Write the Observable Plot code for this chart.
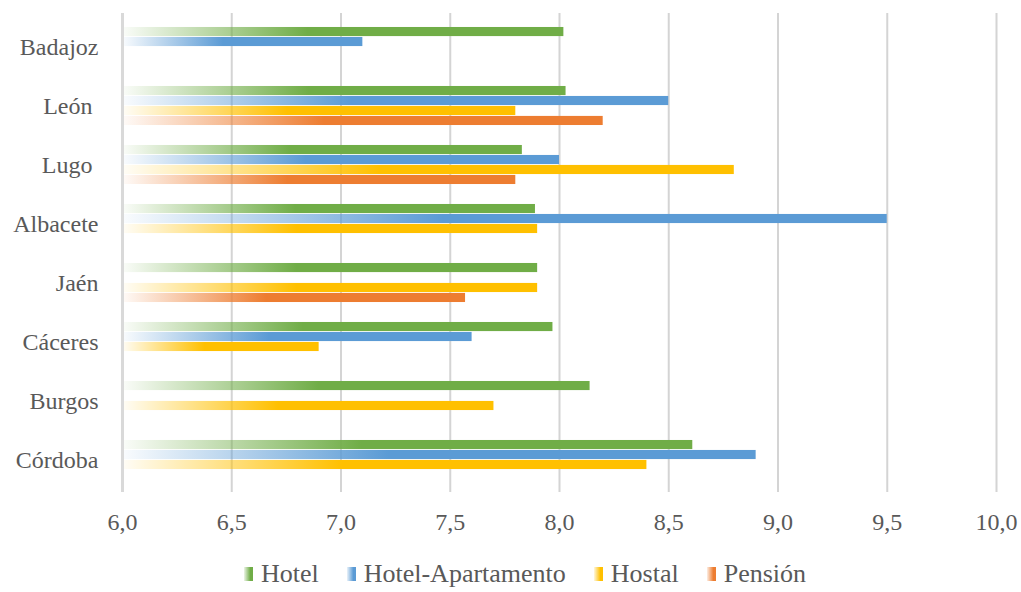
<!DOCTYPE html>
<html>
<head>
<meta charset="utf-8">
<script src="https://cdn.jsdelivr.net/npm/d3@7"></script>
<script src="https://cdn.jsdelivr.net/npm/@observablehq/plot@0.6"></script>
</head>
<body style="margin:0;background:#fff;font-family:'Liberation Serif'">
<div id="chart"></div>
<div id="legend" style="display:flex;justify-content:center;align-items:center;height:36px;font-size:26px;color:#595959;padding-left:29px;box-sizing:border-box;width:1021px;font-family:'Liberation Serif'"></div>
<script>
// ---- data ----
const cities = ["Badajoz", "León ", "Lugo ", "Albacete", "Jaén", "Cáceres", "Burgos", "Córdoba"];
const seriesNames = ["Hotel", "Hotel-Apartamento", "Hostal", "Pensión"];
const hotel    = [8.02, 8.03, 7.83, 7.89, 7.90, 7.97, 8.14, 8.61];
const hotelApt = [7.10, 8.50, 8.00, 9.50, null, 7.60, null, 8.90];
const hostal   = [null, 7.80, 8.80, 7.90, 7.90, 6.90, 7.70, 8.40];
const pension  = [null, 8.20, 7.80, null, 7.57, null, null, null];
const xTicks = [6.0, 6.5, 7.0, 7.5, 8.0, 8.5, 9.0, 9.5, 10.0];
const colors = ["#70AD47", "#5B9BD5", "#FFC000", "#ED7D31"];

const seriesValues = [hotel, hotelApt, hostal, pension];

// ---- layout ----
const width = 1021, height = 556;
const marginTop = 13, marginBottom = height - 492, marginLeft = 122, marginRight = 25;
const step = (height - marginTop - marginBottom) / cities.length;
const barH = step / 6;
const xDomain = [6, 10];

const barMarks = seriesNames.map((name, i) => {
  const rows = cities.map((c, k) => ({city: c, value: seriesValues[i][k]})).filter(d => d.value != null);
  return Plot.barX(rows, {
    y: "city",
    x1: () => xDomain[0],
    x2: "value",
    fill: `url(#grad-${i})`,
    insetTop: barH * (1 + i),
    insetBottom: step - barH * (2 + i)
  });
});

const plot = Plot.plot({
  width, height, marginTop, marginBottom, marginLeft, marginRight,
  style: {fontFamily: "Liberation Serif", fontSize: "24px", background: "#fff", display: "block"},
  x: {domain: xDomain},
  y: {domain: cities, padding: 0},
  marks: [
    Plot.ruleX(xTicks.slice(1), {stroke: "#d4d4d4", strokeWidth: 2}),
    ...barMarks,
    Plot.ruleX([xDomain[0]], {stroke: "#d9d9d9", strokeWidth: 3}),
    Plot.axisX({ticks: xTicks, tickSize: 0, tickPadding: 20, fill: "#595959",
      tickFormat: d => d3.format(".1f")(d).replace(".", ","), label: null}),
    Plot.axisY({tickSize: 0, tickPadding: 24, fill: "#595959", label: null,
      tickFormat: d => d.replace(/ /g, "\u00a0")})
  ]
});

// gradients
const svg = d3.select(plot);
const defs = svg.insert("defs", ":first-child");
colors.forEach((c, i) => {
  const g = defs.append("linearGradient").attr("id", `grad-${i}`)
    .attr("x1", 0).attr("x2", 1).attr("y1", 0).attr("y2", 0);
  g.append("stop").attr("offset", 0).attr("stop-color", c).attr("stop-opacity", 0.03);
  g.append("stop").attr("offset", 0.42).attr("stop-color", c).attr("stop-opacity", 1);
  g.append("stop").attr("offset", 1).attr("stop-color", c).attr("stop-opacity", 1);
});
document.getElementById("chart").appendChild(plot);

// legend
const legend = document.getElementById("legend");
seriesNames.forEach((name, i) => {
  const item = document.createElement("div");
  item.style.display = "flex";
  item.style.alignItems = "center";
  item.style.margin = "0 14px";
  const sw = document.createElement("div");
  sw.style.width = "9px";
  sw.style.height = "14px";
  sw.style.marginRight = "8px";
  sw.style.background = `linear-gradient(to right, ${colors[i]}22, ${colors[i]} 70%)`;
  const t = document.createElement("span");
  t.style.fontFamily = "'Liberation Serif'";
  t.textContent = name;
  item.appendChild(sw); item.appendChild(t);
  legend.appendChild(item);
});
</script>
</body>
</html>
